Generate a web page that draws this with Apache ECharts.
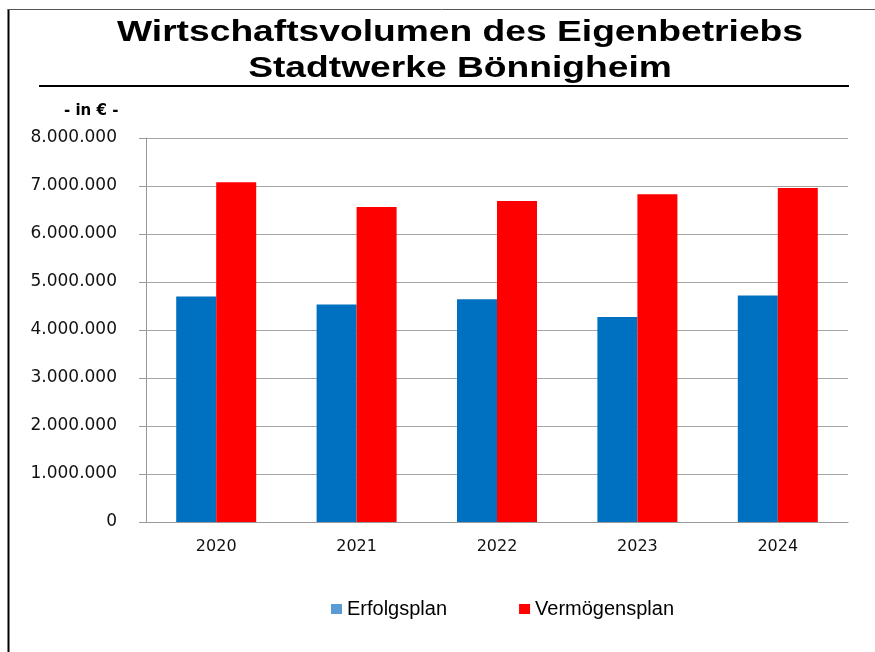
<!DOCTYPE html>
<html lang="de">
<head>
    <meta charset="UTF-8">
    <title>Wirtschaftsvolumen Stadtwerke Bönnigheim</title>
    <script src="https://cdn.jsdelivr.net/npm/echarts@6/dist/echarts.min.js"></script>
    <style>
        html, body { margin: 0; padding: 0; background: #fff; }
        #chart { width: 875px; height: 652px; }
    </style>
</head>
<body>
    <div id="chart"></div>
    <script>
        // Daten
        var jahre = ['2020', '2021', '2022', '2023', '2024'];
        var erfolgsplan = [4700000, 4530000, 4640000, 4270000, 4720000];
        var vermoegensplan = [7080000, 6560000, 6690000, 6830000, 6960000];
        var titelZeilen = ['Wirtschaftsvolumen des Eigenbetriebs', 'Stadtwerke Bönnigheim'];

        function fmt(v) {
            return String(v).replace(/\B(?=(\d{3})+(?!\d))/g, '.');
        }

        // Titel etwas in die Breite gezogen, wie im Original
        var titelFont = 'bold 30px "Liberation Sans"';

        var chart = echarts.init(document.getElementById('chart'));
        chart.setOption({
            backgroundColor: '#fff',
            animation: false,
            graphic: [
                // Rahmen
                { type: 'line', shape: { x1: 8.5, y1: 9, x2: 8.5, y2: 652 }, style: { stroke: '#000', lineWidth: 2 } },
                { type: 'line', shape: { x1: 8, y1: 9.5, x2: 875, y2: 9.5 }, style: { stroke: '#555', lineWidth: 1 } },
                // Titel
                {
                    type: 'text', x: 460, y: 33, scaleX: 1.24,
                    style: { text: titelZeilen[0], font: titelFont, fill: '#000', textAlign: 'center', textVerticalAlign: 'middle' }
                },
                {
                    type: 'text', x: 460, y: 69, scaleX: 1.24,
                    style: { text: titelZeilen[1], font: titelFont, fill: '#000', textAlign: 'center', textVerticalAlign: 'middle' }
                },
                // Linie unter dem Titel
                { type: 'line', shape: { x1: 39, y1: 86, x2: 849, y2: 86 }, style: { stroke: '#000', lineWidth: 2 } },
                {
                    type: 'text', x: 64, y: 111,
                    style: { text: '- in € -', font: 'bold 15px "DejaVu Sans"', fill: '#000', textVerticalAlign: 'middle' }
                }
            ],
            legend: {
                top: 594,
                left: 326,
                itemGap: 72,
                itemWidth: 11,
                itemHeight: 10,
                icon: 'rect',
                textStyle: { fontFamily: 'Liberation Sans', fontSize: 20, color: '#000' },
                data: [
                    { name: 'Erfolgsplan', itemStyle: { color: '#5b9bd5' } },
                    { name: 'Vermögensplan', itemStyle: { color: '#ff0000' } }
                ]
            },
            grid: { left: 146, right: 27, top: 138, bottom: 130 },
            xAxis: {
                type: 'category',
                data: jahre,
                axisLine: { lineStyle: { color: '#999' } },
                axisTick: { length: 7, lineStyle: { color: '#999' } },
                axisLabel: { margin: 17, fontFamily: 'DejaVu Sans', fontSize: 16, color: '#111' }
            },
            yAxis: {
                type: 'value',
                min: 0,
                max: 8000000,
                interval: 1000000,
                axisLine: { show: true, lineStyle: { color: '#999' } },
                axisTick: { show: true, length: 7, lineStyle: { color: '#999' } },
                splitLine: { lineStyle: { color: '#a6a6a6' } },
                axisLabel: {
                    margin: 29,
                    fontFamily: 'DejaVu Sans',
                    fontSize: 17,
                    color: '#111',
                    formatter: fmt
                }
            },
            series: [
                {
                    name: 'Erfolgsplan',
                    type: 'bar',
                    data: erfolgsplan,
                    barWidth: 40,
                    barGap: '0%',
                    itemStyle: { color: '#0070c0' }
                },
                {
                    name: 'Vermögensplan',
                    type: 'bar',
                    data: vermoegensplan,
                    barWidth: 40,
                    barGap: '0%',
                    itemStyle: { color: '#ff0000' }
                }
            ]
        });
    </script>
</body>
</html>
